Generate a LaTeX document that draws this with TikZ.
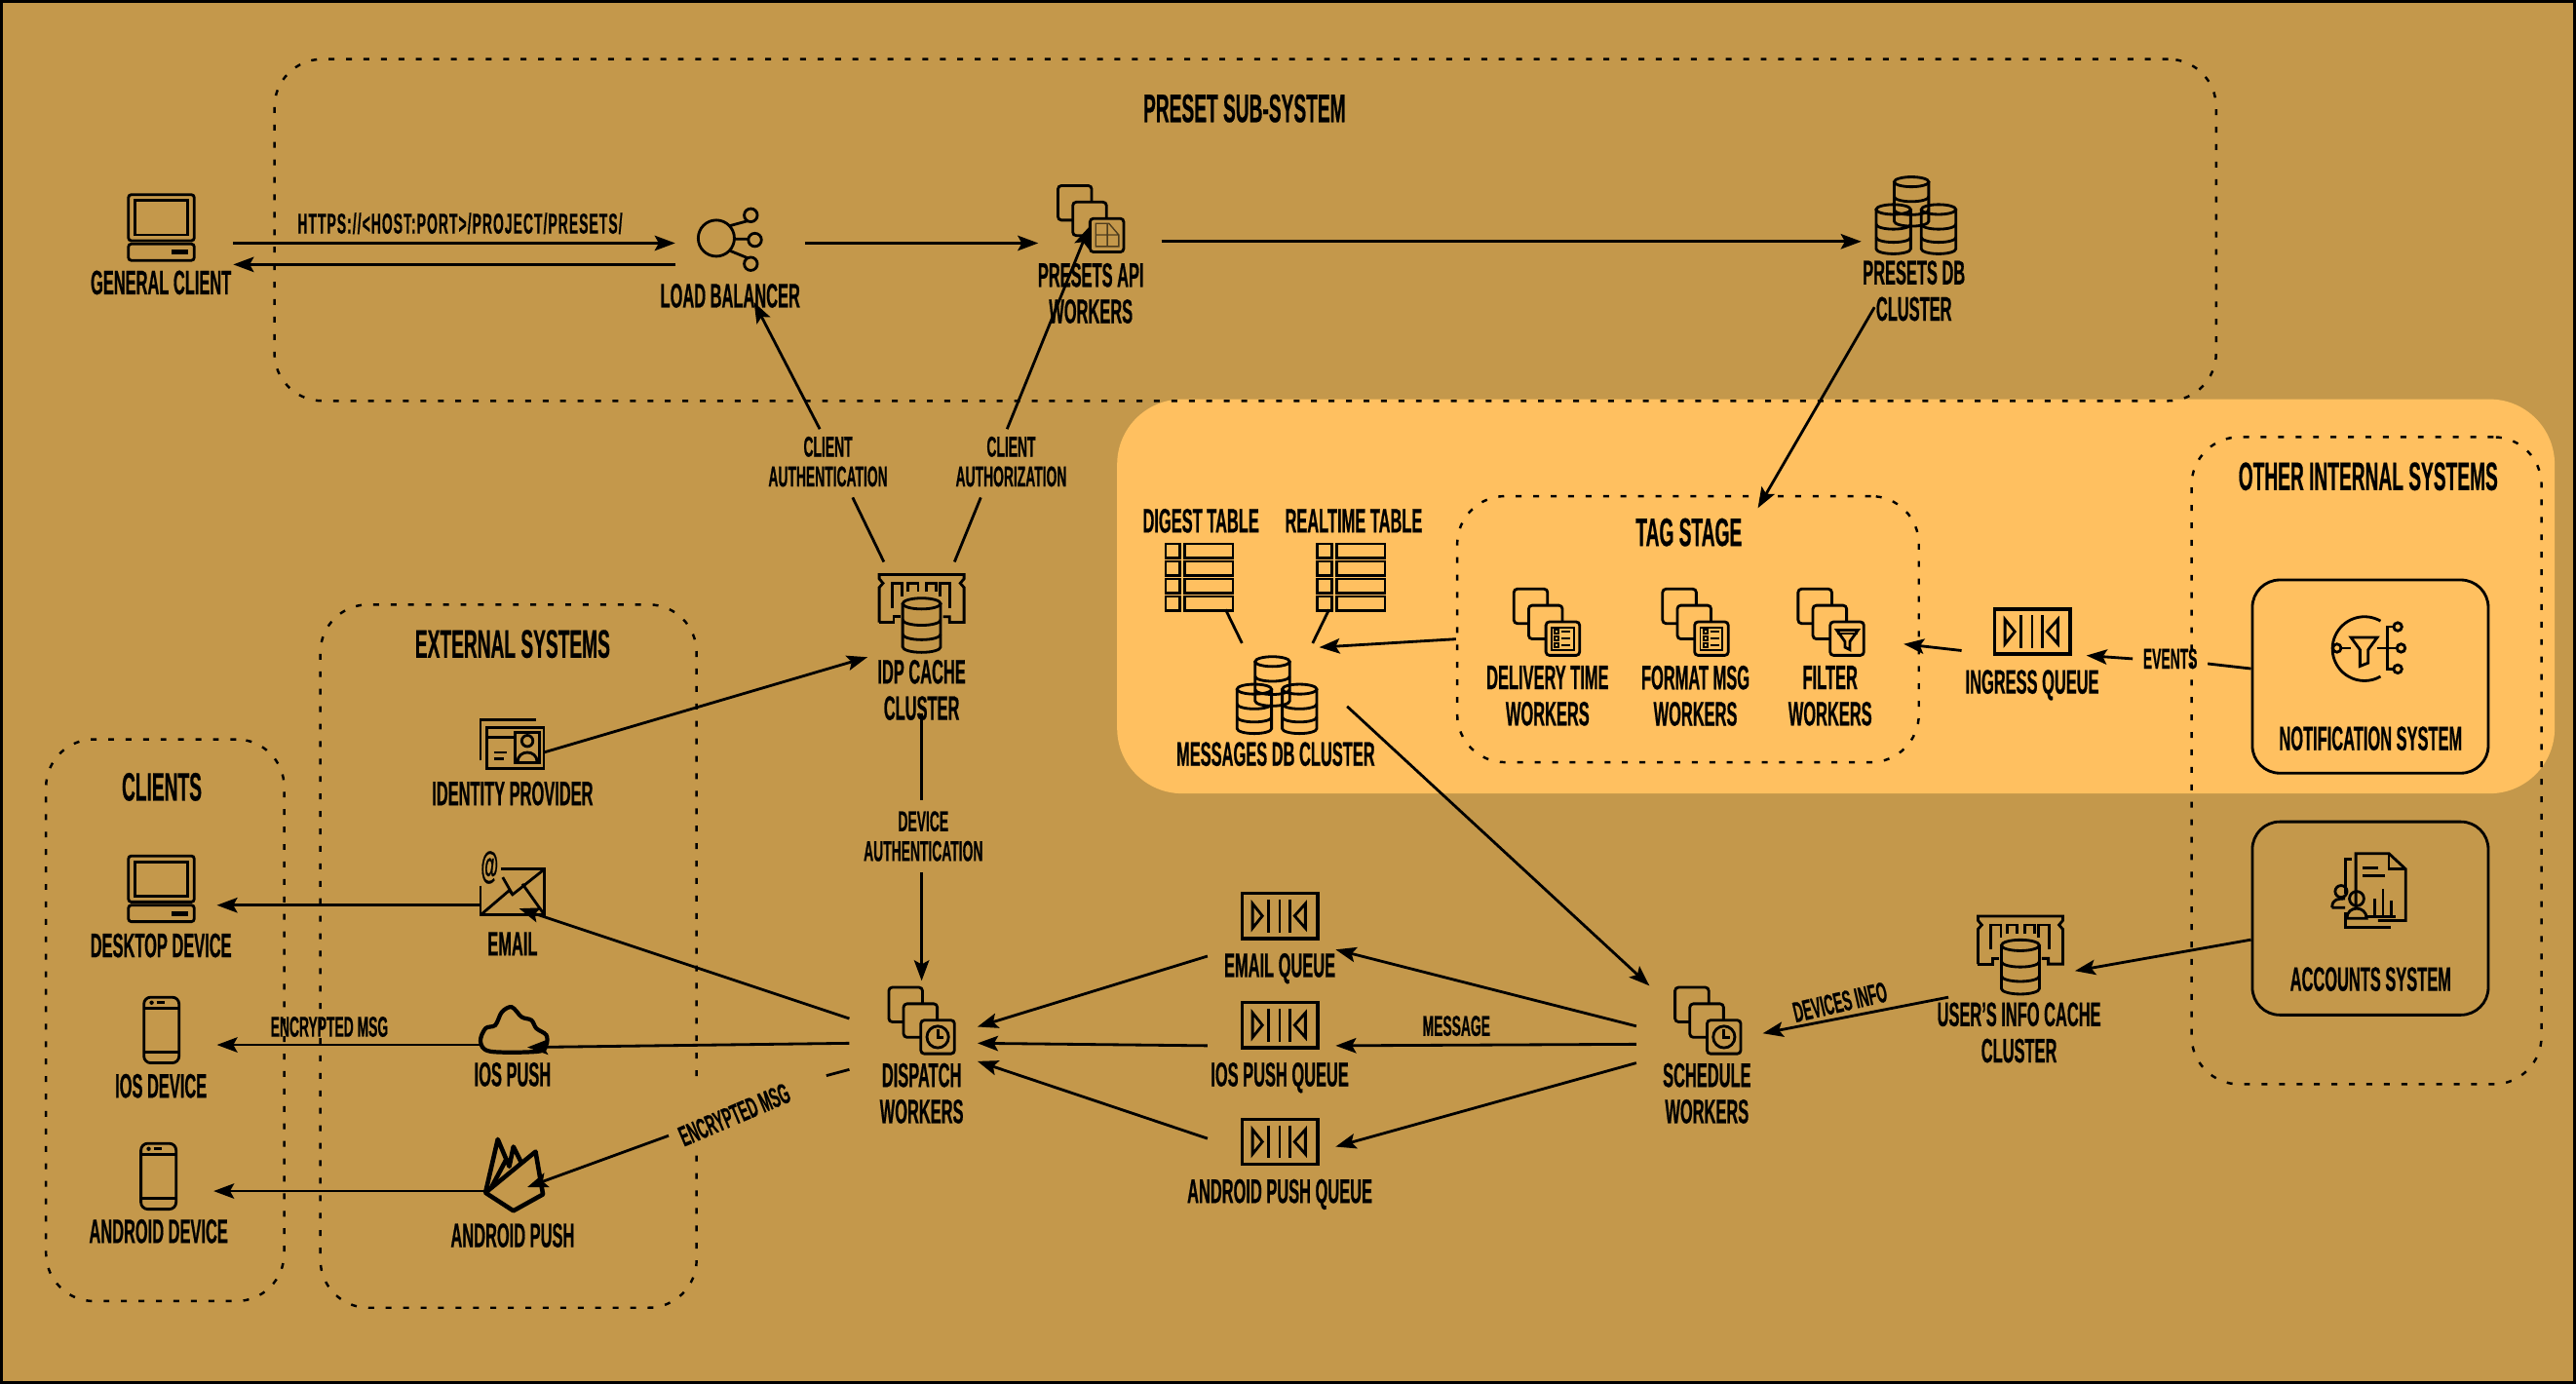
\documentclass[tikz,border=0pt]{standalone}
\usepackage{fontspec}
\setmainfont{Liberation Sans}[FakeStretch=0.47,BoldFeatures={FakeBold=0.5}]
\usetikzlibrary{arrows.meta}
\definecolor{bgcol}{HTML}{C4984B}
\definecolor{hlcol}{HTML}{FFC060}
\def\pxu{0.4797pt}
\newcommand{\stackdocs}{
  \draw[rounded corners=1pt] (.5,-10) -- (.5,-20) -- (-20,-20) -- (-20,1) -- (-11,1);
  \draw[rounded corners=1pt] (9.5,0) -- (9.5,-10) -- (-11,-10) -- (-11,10.4) -- (-.5,10.4);
  \draw[rounded corners=1pt] (-.5,0) rectangle (20,20.4);
}
\tikzset{
  iconbox/.style={inner sep=0,outer sep=0,minimum width=#1},
  lbl/.style={font=\bfseries\fontsize{9.95}{10.6}\selectfont,align=center,inner sep=0},
  ttl/.style={font=\bfseries\fontsize{11.6}{12}\selectfont,align=center,inner sep=0},
  lblsm/.style={font=\bfseries\fontsize{8.4}{8.7}\selectfont,align=center,inner sep=0},
  dashbox/.style={draw,rounded corners=14pt,line width=.7pt,dash pattern=on 1.7pt off 3.4pt},
  sysbox/.style={draw,rounded corners=8pt,minimum width=143.6*\pxu,minimum height=117.6*\pxu,inner sep=0},
  arr/.style={-{Stealth[length=6pt,width=4.4pt,inset=1.2pt]}},
  pics/desktop/.style={code={
    \draw[rounded corners=.8pt] (-20,-20) rectangle (20,8);
    \draw (-16,-16.5) rectangle (16,4.5);
    \draw[rounded corners=.8pt] (-20,10) rectangle (20,20);
    \fill (6,13.5) rectangle (16.5,16.5);
  }},
  pics/phone/.style={code={
    \draw[rounded corners=2pt] (-10.7,-20) rectangle (10.7,20);
    \draw (-10.7,-13.4) -- (10.7,-13.4) (-10.7,13.6) -- (10.7,13.6);
    \fill (-6,-16.7) circle [radius=1.3];
    \draw (-3,-16.7) -- (2,-16.7);
  }},
  pics/queue/.style={code={
    \draw[line width=1pt] (-23,-13.7) rectangle (23,13.7);
    \foreach \x in {-7,0,6} \draw (\x,-10) -- (\x,10);
    \draw (-16.6,-7.5) -- (-10.6,0) -- (-16.6,7.5) -- cycle;
    \draw (15.6,-7.5) -- (9,0) -- (15.6,7.5) -- cycle;
  }},
  pics/clockdocs/.style={code={
    \stackdocs
    \draw (9.8,10.2) circle [radius=6.6];
    \draw (9.8,5.5) -- (9.8,10.6) -- (13.5,10.6);
  }},
  pics/listdocs/.style={code={
    \stackdocs
    \draw[line width=.5pt] (3,3.5) rectangle (16.5,17);
    \foreach \y in {6,10.2,14.4} {
      \draw[line width=.5pt] (4.8,\y-1.2) rectangle (7.2,\y+1.2);
      \draw[line width=.5pt] (9,\y) -- (14.5,\y);
    }
  }},
  pics/funneldocs/.style={code={
    \stackdocs
    \draw (3.5,5) -- (16.5,5) -- (11.5,12) -- (11.5,17) -- (8.5,15.5) -- (8.5,12) -- cycle;
    \draw[line width=.5pt] (3.5,7) -- (16.5,7);
  }},
  pics/sheetdocs/.style={code={
    \stackdocs
    \draw[line width=.4pt,black!60!bgcol] (3,3) -- (11,3) -- (17,10) -- (17,17) -- (3,17) -- cycle (3,10) -- (17,10) (10,3) -- (10,17);
  }},
  pics/cyl/.style={code={
    \draw (0,-12) circle [x radius=10.5,y radius=3];
    \draw (-10.5,-12) -- (-10.5,12) arc (180:0:10.5 and 3) -- (10.5,-12);
    \foreach \y in {-3,5} \draw (-10.5,\y) arc (180:0:10.5 and 3);
  }},
  pics/dbcluster/.style={code={
    \pic at (-2.5,-8.3) {cyl};
    \pic at (-13.5,8.5) {cyl};
    \pic at (14,8.5) {cyl};
  }},
  pics/cachedb/.style={code={
    \draw (-25.8,5.8) -- (-25.8,-15.4) -- (-23.5,-18) -- (-25.8,-20.7) -- (-25.8,-23.3) -- (25.8,-23.3) -- (25.8,-20.7) -- (23.5,-18) -- (25.8,-15.4) -- (25.8,5.8) -- (17,5.8) -- (17,2.4) -- (13,2.4);
    \draw (-25.8,5.8) -- (-17,5.8) -- (-17,2.4) -- (-13,2.4);
    \draw (-17.9,-2.9) -- (-17.9,-18) -- (-11.8,-18) -- (-11.8,-10);
    \draw (17.3,-2.9) -- (17.3,-18) -- (11.2,-18) -- (11.2,-10);
    \foreach \x in {-8.2,2.7} \draw (\x,-12.7) -- (\x,-18) -- (\x+6.1,-18) -- (\x+6.1,-12.7);
    \pic[scale=1.1] at (0,7.6) {cyl};
  }},
  pics/tableicon/.style={code={
    \foreach \y in {-20,-9.3,1.4,12.1} {
      \draw (-20.5,\y) rectangle (-12,\y+8.8);
      \draw (-9,\y) rectangle (20.5,\y+8.8);
    }
  }},
  pics/balancer/.style={code={
    \draw (-8.5,0) circle [radius=11];
    \draw (12.5,-14) circle [radius=4] (15,1) circle [radius=4] (12.5,15.6) circle [radius=4];
    \draw (-.5,-7.5) -- (10.5,-10.5) (2.5,.5) -- (11,.5) (-.5,7.5) -- (10.5,12);
  }},
  pics/idcard/.style={code={
    \draw (-19,10) -- (-19,-15) -- (15,-15);
    \draw (-15,-10) rectangle (19.5,15);
    \draw (-15,-4) -- (2,-4);
    \draw (2,-7) rectangle (17,11);
    \draw (9.5,-2) circle [radius=3.4];
    \draw (3.5,11) .. controls (3.5,3) and (15.5,3) .. (15.5,11);
    \draw (-11,5) -- (-3,5) (-11,9) -- (-5,9);
  }},
  pics/envelope/.style={code={
    \draw (-19.5,-4) -- (-19.5,14) -- (19.5,14) -- (19.5,-14) -- (-7,-14);
    \draw (-19.5,14) -- (-2,-1) -- (0,1.5) -- (19.5,-14);
    \draw (-6,-9) -- (0,1.5) (6,-5) -- (19.5,14);
    \node[font=\bfseries\fontsize{11}{11}\selectfont,inner sep=0] (at sign) at (-14,-15) {@};
  }},
  pics/cloud/.style={code={
    \draw[line width=1.2pt] plot[smooth cycle,tension=.55] coordinates {(-14,13) (-20,7) (-17,-1) (-11,-3) (-7,-11) (-1,-14) (5,-8) (11,-6) (14,-1) (20,3) (20,9) (15,13)};
  }},
  pics/flame/.style={code={
    \draw[line width=1.3pt,line join=round] (-17.5,11) -- (-.5,22) -- (17.5,12) -- (13,-14) -- (-17.5,11) -- (-10,-21.5) -- (-3,-5) -- (-.5,-17) -- (5,-6);
    \draw[line width=1.3pt] (-14,8) -- (-5,-9);
  }},
  pics/filtersys/.style={code={
    \draw (7,-16.5) arc (-60:-300:19.5);
    \draw (-19.5,0) circle [radius=2.5] (17.5,-13) circle [radius=2.5] (19.5,0) circle [radius=2.5] (17.5,12.7) circle [radius=2.5];
    \draw (15,-13) -- (11,-13) -- (11,12.7) -- (15,12.7) (-17,0) -- (-11,0) (5,0) -- (17,0);
    \draw (-11,-6.5) -- (5,-6.5) -- (-.5,1) -- (-.5,9) -- (-5.5,11) -- (-5.5,1) -- cycle;
  }},
  pics/accountsicon/.style={code={
    \draw (-7.5,11) -- (-7.5,-22.5) -- (12.6,-22.5) -- (22.8,-13) -- (22.8,18.3) -- (6,18.3);
    \draw (12.6,-22.5) -- (12.6,-13) -- (22.8,-13);
    \draw (-14,2) -- (-14,-19) -- (-10,-19) (-14,13) -- (-14,22.5) -- (14,22.5);
    \draw (-3.5,-13.5) -- (6,-13.5) (-3.5,-9) -- (10,-9);
    \draw (-1,16) -- (17,16) (4,16) -- (4,5) (9,16) -- (9,-1) (14,16) -- (14,6);
    \draw (-16.5,.6) circle [radius=3.6] (-7,5) circle [radius=4.4];
    \draw (-22,10.5) .. controls (-22,5) and (-18,5) .. (-14,5) (-22,10.5) -- (-14,10.5);
    \draw (-13,17) .. controls (-13,9) and (-1,9) .. (-1,17) -- cycle;
  }},
}
\begin{document}
\begin{tikzpicture}[x=.016856cm,y=-.016856cm,line width=.8pt]
  \useasboundingbox (0,0) rectangle (1568,842.4);
  \fill[bgcol] (0,0) rectangle (1568,842.4);
  \draw[line width=1pt] (0.8,0.8) rectangle (1567.2,841.6);
  \fill[hlcol,rounded corners=19pt] (680,243) rectangle (1555,483);

  \node[dashbox,minimum width=1182*\pxu,minimum height=208*\pxu,inner sep=0] (presetsub) at (758,140) {};
  \node[dashbox,minimum width=213*\pxu,minimum height=394*\pxu,inner sep=0] (othersys) at (1440.5,463) {};
  \node[dashbox,minimum width=145*\pxu,minimum height=342*\pxu,inner sep=0] (clientsys) at (100.5,621) {};
  \node[dashbox,minimum width=281*\pxu,minimum height=162*\pxu,inner sep=0] (tagstage) at (1027.5,383) {};
  \draw[dashbox] (424,655) -- (424,368) -- (195,368) -- (195,796) -- (424,796) -- (424,698);
  \node[sysbox] (notifsys) at (1442.8,411.8) {};
  \node[sysbox] (accsys) at (1442.8,559) {};

  \foreach \nm/\x/\y/\w/\h in {genclient/98/138/88/40,loadbal/450.5/148/79/72,presetapi/669.5/148/75/40,presetdb/1166/147/66/80,
    msgdb/777/423/86/64,digesttbl/730/351/41/40,realtbl/822.5/351/41/40,
    idpcache/561/388/66/92,dispatch/556/621/78/48,schedule/1034.5/621/77/42,
    emailq/774/560/78/44,iosq/774/624/78/28,androidq/774/695/78/28,
    usercache/1224.5/581/77/52,ingress/1232/384.5/76/27,
    identity/311.5/453/39/30,email/312/543/40/28,iospush/312.5/627/41/27,androidpush/313/715/35/44,
    desktopdev/98/541/68/40,iosdev/98/627/68/40,androiddev/96.5/716/67/40}
    \node[iconbox=\w*\pxu,minimum height=\h*\pxu] (\nm) at (\x,\y) {};

  \pic at (98.2,138.5) {desktop};
  \pic at (98.2,541) {desktop};
  \pic at (98.3,627) {phone};
  \pic at (96.5,716) {phone};
  \pic at (444.5,145) {balancer};
  \pic at (664,133) {sheetdocs};
  \pic at (561,621) {clockdocs};
  \pic at (1039.6,621) {clockdocs};
  \pic at (941.5,378.5) {listdocs};
  \pic at (1032,378.5) {listdocs};
  \pic at (1114.5,378.5) {funneldocs};
  \pic at (1166,131) {dbcluster};
  \pic at (777,423) {dbcluster};
  \pic at (561,373) {cachedb};
  \pic at (1229.8,581) {cachedb};
  \foreach \x/\y in {1237/384.5,779/557.5,779/624,779/695} \pic at (\x,\y) {queue};
  \pic at (730,351) {tableicon};
  \pic at (822.5,351) {tableicon};
  \pic at (311.5,453) {idcard};
  \pic at (312,543) {envelope};
  \pic at (312.5,627) {cloud};
  \pic at (313,715) {flame};
  \pic at (1442,394.5) {filtersys};
  \pic at (1441.5,542) {accountsicon};

  \foreach \nm/\x/\y/\t in {lgen/98/172/GENERAL CLIENT,llb/444.5/180/LOAD BALANCER,lapi/664/178.5/PRESETS API\\WORKERS,ldb/1165/177/PRESETS DB\\CLUSTER,
    lidp/561/420/IDP CACHE\\CLUSTER,lident/312/483/IDENTITY PROVIDER,ldesk/98/575.5/DESKTOP DEVICE,lios/98/661/IOS DEVICE,landroid/96.5/749.5/ANDROID DEVICE,
    lemail/312/574.5/EMAIL,lipush/312/654/IOS PUSH,lapush/312/752/ANDROID PUSH,ldisp/561/665.5/DISPATCH\\WORKERS,lsched/1039/665.5/SCHEDULE\\WORKERS,
    leq/779/589.5/EMAIL QUEUE,liq/779/656/IOS PUSH QUEUE,laq/779/727/ANDROID PUSH QUEUE,lucache/1229/628.5/USER'S INFO CACHE\\CLUSTER,
    laccs/1443/596/ACCOUNTS SYSTEM,lnotif/1443/449.5/NOTIFICATION SYSTEM,lingr/1237/417/INGRESS QUEUE,
    ldel/942/423.5/DELIVERY TIME\\WORKERS,lfmt/1032/423.5/FORMAT MSG\\WORKERS,lfilt/1114/423.5/FILTER\\WORKERS,
    ldig/731/317/DIGEST TABLE,lreal/824/317/REALTIME TABLE,lmsg/776.5/459/MESSAGES DB CLUSTER}
    \node[lbl] (\nm) at (\x,\y) {\t};
  \foreach \nm/\x/\y/\t in {tpreset/757.5/66/PRESET SUB-SYSTEM,tother/1441.5/290/OTHER INTERNAL SYSTEMS,tclients/98.5/479/CLIENTS,text/312/392/EXTERNAL SYSTEMS,ttag/1028/324/TAG STAGE}
    \node[ttl] (\nm) at (\x,\y) {\t};

  \node[lblsm] (lhttps) at (280,136) {\addfontfeature{LetterSpace=3.6}HTTPS://<HOST:PORT>/PROJECT/PRESETS/};
  \foreach \nm/\x/\y/\t in {lauthn/504/281/CLIENT\\AUTHENTICATION,lauthz/615.5/281/CLIENT\\AUTHORIZATION,ldevauth/562/509/DEVICE\\AUTHENTICATION}
    \node[lblsm,minimum height=42*\pxu] (\nm) at (\x,\y) {\t};
  \node[lblsm] (lencios) at (200.5,625) {ENCRYPTED MSG};
  \node[lblsm] (lmessage) at (886.5,624.5) {MESSAGE};
  \node[lblsm,minimum width=44*\pxu] (levents) at (1321,401) {EVENTS};
  \node[lblsm,rotate=23,minimum width=120*\pxu] (lencand) at (447,678.5) {ENCRYPTED MSG};
  \node[lblsm,rotate=13] (ldevinfo) at (1120,610) {DEVICES INFO};

  \draw[arr] ([shift={(0,10)}]genclient.east) -- (loadbal.west);
  \draw[arr] ([shift={(0,13)}]loadbal.west) -- ([shift={(0,23)}]genclient.east);
  \draw[arr] (loadbal.east) -- (presetapi.west);
  \draw[arr] ([shift={(0,-1)}]presetapi.east) -- ([shift={(-33,0)}]presetdb.center);
  \draw[arr] ([shift={(-25,0)}]presetdb.south) -- ([shift={(42.5,8)}]tagstage.north);
  \draw[arr] ([shift={(-5,2)}]lauthn.north) -- ([shift={(8.5,0)}]loadbal.south);
  \draw ([shift={(-23,0)}]idpcache.north) -- ([shift={(15,0)}]lauthn.south);
  \draw[arr] ([shift={(-2.5,2)}]lauthz.north) -- ([shift={(-6.5,-10)}]presetapi.center);
  \draw ([shift={(20,0)}]idpcache.north) -- ([shift={(-18.5,0)}]lauthz.south);
  \draw[arr] ([shift={(0,5)}]identity.east) -- ([shift={(0,12)}]idpcache.west);
  \draw (idpcache.south) -- ([shift={(-1,0)}]ldevauth.north);
  \draw[arr] ([shift={(-1,0)}]ldevauth.south) -- ([shift={(5,0)}]dispatch.north);
  \draw[arr] ([shift={(0,-1)}]dispatch.west) -- ([shift={(4,-4)}]email.south);
  \draw[arr] ([shift={(0,14)}]dispatch.west) -- ([shift={(8.5,-3)}]iospush.south);
  \draw ([shift={(0,30)}]dispatch.west) -- (lencand.east);
  \draw[arr] ([shift={(16,-11)}]lencand.west) -- ([shift={(-9.5,7.6)}]androidpush.east);
  \draw[arr] ([shift={(0,8)}]email.west) -- ([shift={(0,10)}]desktopdev.east);
  \draw[arr] ([shift={(0,9)}]iospush.west) -- ([shift={(0,9)}]iosdev.east);
  \draw[arr] ([shift={(2.5,10)}]androidpush.west) -- ([shift={(0,9)}]androiddev.east);
  \draw[arr] ([shift={(0,22)}]emailq.west) -- ([shift={(0,4)}]dispatch.east);
  \draw[arr] ([shift={(0,12.5)}]iosq.west) -- ([shift={(0,14)}]dispatch.east);
  \draw[arr] ([shift={(0,-2)}]androidq.west) -- ([shift={(0,25)}]dispatch.east);
  \draw[arr] ([shift={(0,3.6)}]schedule.west) -- ([shift={(0,18)}]emailq.east);
  \draw[arr] ([shift={(0,14.6)}]schedule.west) -- ([shift={(0,12.5)}]iosq.east);
  \draw[arr] ([shift={(0,26)}]schedule.west) -- ([shift={(0,3)}]androidq.east);
  \draw[arr] ([shift={(0,7)}]msgdb.east) -- ([shift={(-30.5,0)}]schedule.north);
  \draw[arr] ([shift={(0,26)}]usercache.west) -- ([shift={(0,8)}]schedule.east);
  \draw[arr] ([shift={(0,13)}]accsys.west) -- ([shift={(0,10)}]usercache.east);
  \draw ([shift={(0,-4.8)}]notifsys.west) -- ([shift={(0,3)}]levents.east);
  \draw[arr] (levents.west) -- ([shift={(0,14.5)}]ingress.east);
  \draw[arr] ([shift={(0,11.5)}]ingress.west) -- ([shift={(-10,9)}]tagstage.east);
  \draw[arr] ([shift={(0,6)}]tagstage.west) -- ([shift={(26,3)}]msgdb.north);
  \draw ([shift={(16,0)}]digesttbl.south) -- ([shift={(-21,.5)}]msgdb.north);
  \draw ([shift={(-13.5,0)}]realtbl.south) -- ([shift={(22,.5)}]msgdb.north);
\end{tikzpicture}
\end{document}
